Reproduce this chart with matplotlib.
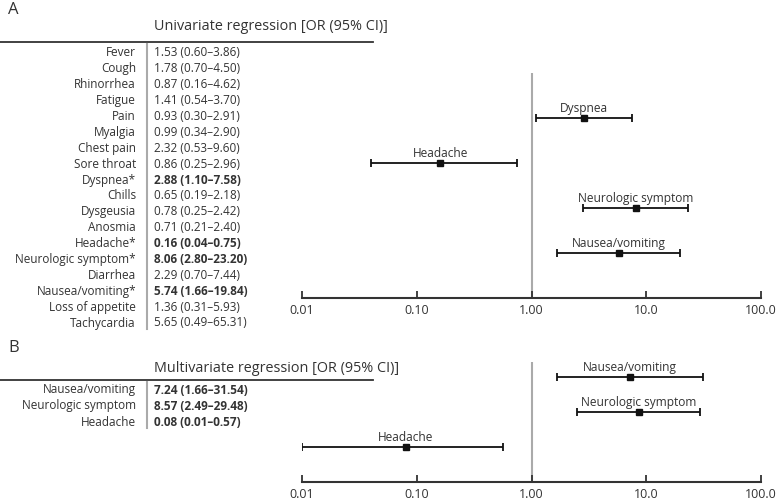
import numpy as np
import matplotlib.pyplot as plt

plt.rcParams['font.family'] = ['Open Sans', 'DejaVu Sans']
TXT = '#333333'

# Panel A: univariate table
uni_names = ["Fever", "Cough", "Rhinorrhea", "Fatigue", "Pain", "Myalgia", "Chest pain",
             "Sore throat", "Dyspnea*", "Chills", "Dysgeusia", "Anosmia", "Headache*",
             "Neurologic symptom*", "Diarrhea", "Nausea/vomiting*", "Loss of appetite", "Tachycardia"]
uni_text = ["1.53 (0.60–3.86)", "1.78 (0.70–4.50)", "0.87 (0.16–4.62)", "1.41 (0.54–3.70)",
            "0.93 (0.30–2.91)", "0.99 (0.34–2.90)", "2.32 (0.53–9.60)", "0.86 (0.25–2.96)",
            "2.88 (1.10–7.58)", "0.65 (0.19–2.18)", "0.78 (0.25–2.42)", "0.71 (0.21–2.40)",
            "0.16 (0.04–0.75)", "8.06 (2.80–23.20)", "2.29 (0.70–7.44)", "5.74 (1.66–19.84)",
            "1.36 (0.31–5.93)", "5.65 (0.49–65.31)"]
uni_bold = [False]*8 + [True] + [False]*3 + [True, True, False, True, False, False]

# Panel A: forest plot (significant ones)
uni_plot_names = ["Dyspnea", "Headache", "Neurologic symptom", "Nausea/vomiting"]
uni_or = [2.88, 0.16, 8.06, 5.74]
uni_lo = [1.10, 0.04, 2.80, 1.66]
uni_hi = [7.58, 0.75, 23.20, 19.84]

# Panel B: multivariate
multi_names = ["Nausea/vomiting", "Neurologic symptom", "Headache"]
multi_text = ["7.24 (1.66–31.54)", "8.57 (2.49–29.48)", "0.08 (0.01–0.57)"]
multi_or = [7.24, 8.57, 0.08]
multi_lo = [1.66, 2.49, 0.01]
multi_hi = [31.54, 29.48, 0.57]

ticks = [0.01, 0.1, 1, 10, 100]
tick_labels = ["0.01", "0.10", "1.00", "10.0", "100.0"]

W, H = 777, 500
fig = plt.figure(figsize=(W/100, H/100), dpi=100)

# overlay in pixel coordinates for the tables
ov = fig.add_axes([0, 0, 1, 1])
ov.set_xlim(0, W)
ov.set_ylim(H, 0)
ov.axis('off')

def table(letter, letter_y, header, header_y, line_y, names, texts, bold, row0, pitch):
    ov.text(8, letter_y, letter, fontsize=12, color=TXT, va='center', ha='left')
    ov.text(154, header_y, header, fontsize=10.4, color=TXT, va='center', ha='left')
    ov.plot([0, 373], [line_y, line_y], color=TXT, lw=1.3)
    ys = row0 + pitch*np.arange(len(names))
    ov.plot([147, 147], [line_y + 2, ys[-1] + 6], color='#aaaaaa', lw=1.5)
    for y, n, t, b in zip(ys, names, texts, bold):
        ov.text(136, y, n, fontsize=8.5, color=TXT, ha='right', va='center')
        ov.text(154, y, t, fontsize=8.5, color=TXT, ha='left', va='center',
                fontweight='bold' if b else 'normal')

table("A", 10, "Univariate regression [OR (95% CI)]", 27, 42,
      uni_names, uni_text, uni_bold, 53, (323-53)/17)
table("B", 348, "Multivariate regression [OR (95% CI)]", 369, 380,
      multi_names, multi_text, [True]*3, 390, 16)

def forest(top, bottom, names, orv, lo, hi, ymax):
    ax = fig.add_axes([302/W, 1 - bottom/H, (761-302)/W, (bottom-top)/H])
    ax.set_xscale('log')
    ax.set_xlim(0.01, 100)
    ax.set_ylim(0, ymax)
    n = len(names)
    ys = np.arange(n, 0, -1)
    ax.axvline(1, color='#aaaaaa', lw=1.5, zorder=0)
    orv = np.array(orv); lo = np.array(lo); hi = np.array(hi)
    ax.errorbar(orv, ys, xerr=[orv - lo, hi - orv], fmt='s', color='#111111',
                ms=4.5, lw=1.3, capsize=3, capthick=1.3)
    for x, y, nm in zip(orv, ys, names):
        ax.annotate(nm, (x, y), xytext=(0, 4.5), textcoords='offset points',
                    ha='center', va='baseline', fontsize=8.6, color=TXT)
    for s in ['top', 'left', 'right']:
        ax.spines[s].set_visible(False)
    ax.spines['bottom'].set_color(TXT)
    ax.spines['bottom'].set_linewidth(1.5)
    ax.set_yticks([])
    ax.set_xticks(ticks)
    ax.set_xticklabels(tick_labels)
    ax.minorticks_off()
    ax.tick_params(axis='x', direction='in', length=5, width=1.3, color=TXT,
                   labelsize=9, labelcolor=TXT, pad=4)
    ax.patch.set_alpha(0)
    return ax

forest(73, 298, uni_plot_names, uni_or, uni_lo, uni_hi, 5)
forest(362, 482, multi_names, multi_or, multi_lo, multi_hi, 120/35)

fig.savefig('out.png', dpi=100)
